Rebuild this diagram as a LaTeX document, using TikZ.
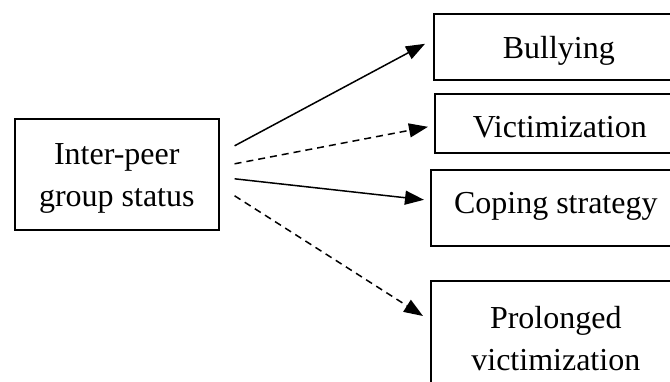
\documentclass[tikz,border=0pt]{standalone}
\usepackage{fontspec}
\setmainfont{Liberation Serif}
\usetikzlibrary{arrows.meta}
\tikzset{
    box/.style={rectangle, draw=black, line width=1.6pt, inner sep=0pt, minimum width=250pt, anchor=north west, align=center, font=\fontsize{32}{42}\selectfont},
    arrow/.style={line width=1.5pt, -{Triangle[length=19pt,width=14pt]}},
    dasharrow/.style={arrow, dash pattern=on 7pt off 5pt}
}

\begin{document}
\begin{tikzpicture}[x=1pt, y=-1pt]
    \useasboundingbox (0,0) rectangle (670,381);
    \clip (0,0) rectangle (670,381);
    \node (status) [box, minimum width=204pt, text height=88pt, text depth=23pt] at (14,118) {Inter-peer\\group status};
    \node (bully) [box, text height=45pt, text depth=21pt] at (433,13) {Bullying};
    \node (victim) [box, text height=44pt, text depth=15pt] at (434,93) {Victimization};
    \node (coping) [box, text height=44pt, text depth=32pt] at (430,169) {Coping strategy};
    \node (prolong) [box, text height=90pt, text depth=40pt] at (430,280) {Prolonged\\victimization};

    \draw [arrow] ([shift={(15,-28.5)}]status.east) -- ([shift={(-8,-3)}]bully.west);
    \draw [dasharrow] ([shift={(15,-10.5)}]status.east) -- ([shift={(-6,3.5)}]victim.west);
    \draw [arrow] ([shift={(15,4.5)}]status.east) -- ([shift={(-6,-8)}]coping.west);
    \draw [dasharrow] ([shift={(15,21.5)}]status.east) -- ([shift={(-7,36)}]prolong.north west);
\end{tikzpicture}
\end{document}
